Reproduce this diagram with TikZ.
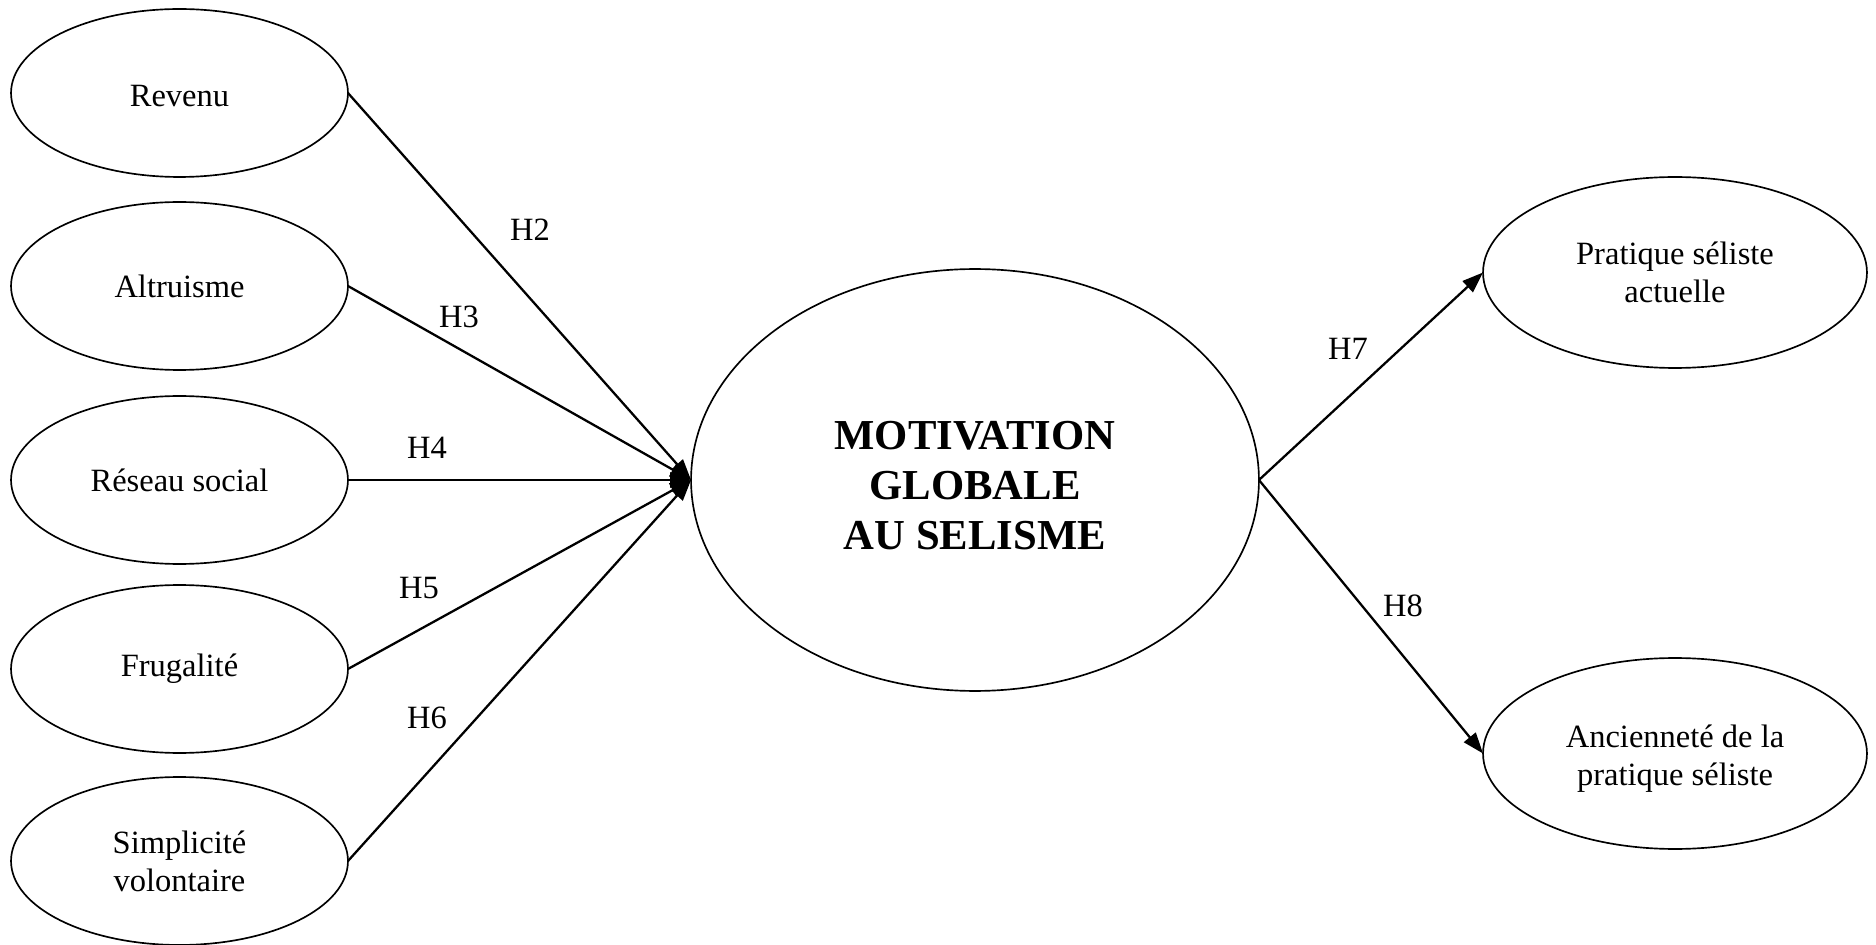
\documentclass[tikz,border=0pt]{standalone}
\usepackage{fontspec}
\setmainfont{Liberation Serif}
\usetikzlibrary{shapes.geometric,arrows.meta}
\tikzset{
  oval/.style={ellipse, draw, line width=0.95pt, inner sep=0pt, outer sep=0pt,
    align=center, font=\fontsize{18.5}{21.6}\selectfont},
  small/.style={oval, minimum width=6.74cm, minimum height=3.36cm},
  outcome/.style={oval, minimum width=7.68cm, minimum height=3.82cm},
  central/.style={oval, minimum width=11.36cm, minimum height=8.44cm,
    font=\fontsize{24.3}{28.5}\selectfont\bfseries},
  link/.style={line width=1.3pt, -{Triangle[length=0.42cm, width=0.3cm]}},
  hyp/.style={font=\fontsize{18.5}{21.6}\selectfont, inner sep=0pt}
}
\begin{document}
\begin{tikzpicture}[x=0.02cm, y=-0.02cm]
\useasboundingbox (0,0) rectangle (1876,945);
\node[small] (rev) at (179.5,93) {\rule{0pt}{0.55cm}Revenu};
\node[small] (alt) at (179.5,286) {Altruisme};
\node[small] (res) at (179.5,480) {Réseau social};
\node[small] (fru) at (179.5,669) {Frugalité};
\node[small] (sim) at (179.5,861) {Simplicité\\volontaire};
\node[central] (mot) at (975,480) {\rule{0pt}{0.78cm}MOTIVATION\\GLOBALE\\AU SELISME};
\node[outcome] (pra) at (1675,272.5) {Pratique séliste\\actuelle};
\node[outcome] (anc) at (1675,753.5) {\rule{0pt}{0.65cm}Ancienneté de la\\pratique séliste};
\draw[link] (rev.east) -- (mot.west);
\draw[link] (alt.east) -- (mot.west);
\draw[link] (res.east) -- (mot.west);
\draw[link] (fru.east) -- (mot.west);
\draw[link] (sim.east) -- (mot.west);
\draw[link] (mot.east) -- (pra.west);
\draw[link] (mot.east) -- (anc.west);
\node[hyp] (h2) at (530,230) {H2};
\node[hyp] (h3) at (459,317) {H3};
\node[hyp] (h4) at (427,448) {H4};
\node[hyp] (h5) at (419,588) {H5};
\node[hyp] (h6) at (427,718) {H6};
\node[hyp] (h7) at (1348,349) {H7};
\node[hyp] (h8) at (1403,606) {H8};
\end{tikzpicture}
\end{document}
